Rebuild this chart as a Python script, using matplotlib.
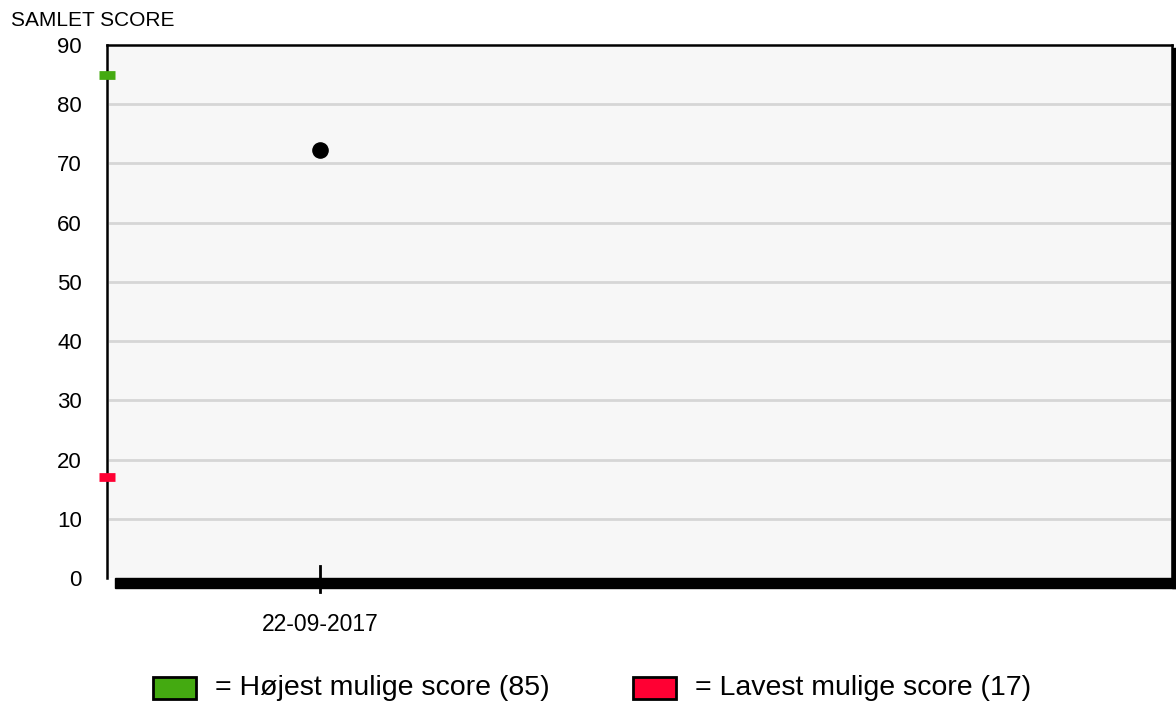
import matplotlib
matplotlib.use("Agg")
import matplotlib.pyplot as plt
from matplotlib.patches import Rectangle

dates = ["22-09-2017"]
scores = [72.3]
max_score = 85
min_score = 17
y_ticks = [0, 10, 20, 30, 40, 50, 60, 70, 80, 90]
legend_labels = ["= Højest mulige score (85)", "= Lavest mulige score (17)"]
legend_colors = ["#44aa11", "#ff0033"]

plt.rcParams['font.family'] = ['Liberation Sans', 'DejaVu Sans']

W, H = 1176, 708
fig = plt.figure(figsize=(W / 100, H / 100), dpi=100)
L, R, T, B = 107, 1172, 45, 578
ax = fig.add_axes([L / W, 1 - B / H, (R - L) / W, (B - T) / H])
ax.set_facecolor("#f7f7f7")

# shadow (bottom and right)
sh = 8
fig.patches.append(Rectangle(((L + sh) / W, 1 - (B + 10) / H), (R + 4 - L - sh) / W, 10 / H,
                             transform=fig.transFigure, color="black", zorder=0))
fig.patches.append(Rectangle((R / W, 1 - (B + 10) / H), 4 / W, (B + 10 - T - 3) / H,
                             transform=fig.transFigure, color="black", zorder=0))

ax.set_ylim(0, 90)
ax.set_xlim(-1, 4)
ax.set_yticks(y_ticks)
ax.tick_params(axis='y', length=0, labelsize=16, pad=18)
ax.set_xticks([])
for y in y_ticks[1:-1]:
    ax.axhline(y, color="#d6d6d6", lw=2, xmin=0.003, xmax=0.997, zorder=1)

for s in ax.spines.values():
    s.set_color("black")
    s.set_linewidth(1.8)
ax.spines['bottom'].set_visible(False)

xs = list(range(len(dates)))
ax.scatter(xs, scores, s=120, color="black", zorder=3)

# x tick marks and labels
for x, d in zip(xs, dates):
    ax.plot([x, x], [-2.4, 2.0], color="black", lw=2, clip_on=False, zorder=5)
    ax.text(x, -7.9, d, ha="center", va="center", fontsize=16.5)

# min/max markers on y axis
half = 8 / ((R - L) / 5)
for val, col in zip([max_score, min_score], legend_colors):
    ax.plot([-1 - half, -1 + half], [val, val], color=col, lw=6.3,
            solid_capstyle="butt", clip_on=False, zorder=5)

fig.text(11 / W, 1 - 21 / H, "SAMLET SCORE", fontsize=15, ha="left", va="center")

# legend
for (x0, tx), lab, col in zip([(153, 215), (633, 695)], legend_labels, legend_colors):
    fig.patches.append(Rectangle((x0 / W, 1 - 699 / H), 43 / W, 22 / H,
                                 transform=fig.transFigure, facecolor=col,
                                 edgecolor="black", lw=2))
    fig.text(tx / W, 1 - 688 / H, lab, fontsize=20.5, ha="left", va="center")

fig.savefig("out.png", dpi=100)
